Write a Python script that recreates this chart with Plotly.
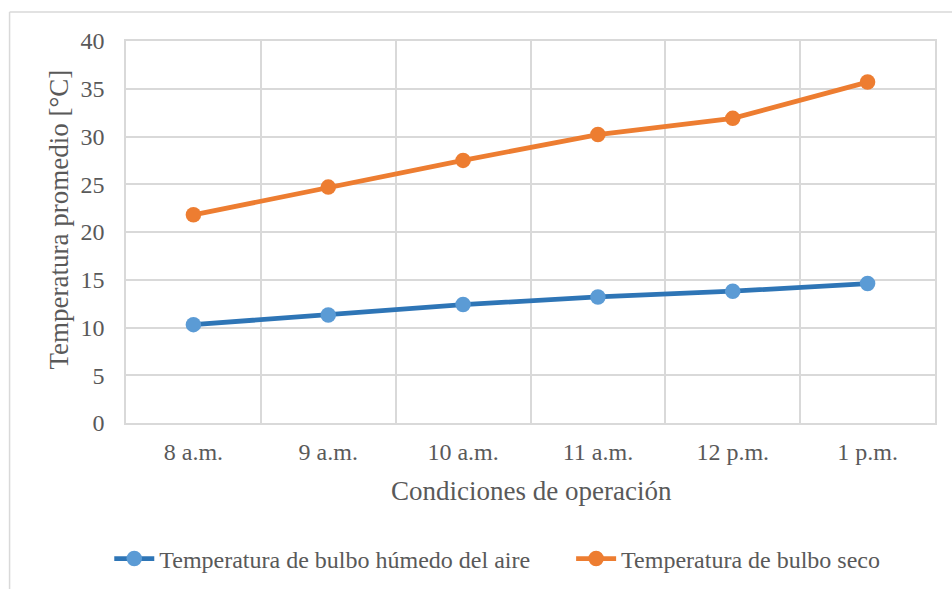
import plotly.graph_objects as go

categories = ["8 a.m.", "9 a.m.", "10 a.m.", "11 a.m.", "12 p.m.", "1 p.m."]
bulbo_humedo = [10.3, 11.3, 12.4, 13.2, 13.8, 14.6]
bulbo_seco = [21.8, 24.7, 27.5, 30.2, 31.9, 35.7]
y_ticks = [0, 5, 10, 15, 20, 25, 30, 35, 40]
serie_nombres = ["Temperatura de bulbo húmedo del aire", "Temperatura de bulbo seco"]

W, H = 952, 589
L, R, T, B = 125.5, 935, 41, 423  # plot area in px

def px_x(px):
    return (px - L) / (R - L)

def px_y(py):
    return (B - py) / (B - T)

FONT = "Liberation Serif, Times New Roman, serif"
TXT = "#595959"
GRID = "#d9d9d9"

fig = go.Figure()
fig.add_trace(go.Scatter(
    x=categories, y=bulbo_humedo, mode="lines+markers",
    name=serie_nombres[0] + "\u00a0" * 6,
    line=dict(color="#2e75b6", width=4.8),
    marker=dict(color="#5b9bd5", size=15.5, line=dict(width=0)),
))
fig.add_trace(go.Scatter(
    x=categories, y=bulbo_seco, mode="lines+markers",
    name=serie_nombres[1],
    line=dict(color="#ed7d31", width=4.8),
    marker=dict(color="#ed7d31", size=15.5, line=dict(width=0)),
))

fig.update_layout(
    width=W, height=H,
    margin=dict(l=L, r=W - R, t=T, b=H - B, autoexpand=False),
    paper_bgcolor="white", plot_bgcolor="white",
    font=dict(family=FONT, color=TXT, size=24),
    showlegend=True,
    legend=dict(
        orientation="h", x=px_x(497), xanchor="center",
        y=px_y(559), yanchor="middle",
        font=dict(family=FONT, size=24, color=TXT),
        bgcolor="rgba(0,0,0,0)", itemwidth=40, tracegroupgap=0,
    ),
    xaxis=dict(
        type="category", range=[-0.5, 5.5], tickson="boundaries",
        showgrid=True, gridcolor=GRID, gridwidth=1.5,
        showline=True, linecolor=GRID, linewidth=1.5, mirror=True,
        ticks="", ticklabelstandoff=6,
        tickfont=dict(family=FONT, size=24, color=TXT),
        zeroline=False, fixedrange=True,
    ),
    yaxis=dict(
        range=[0, 40], tickvals=y_ticks,
        showgrid=True, gridcolor=GRID, gridwidth=1.5,
        showline=True, linecolor=GRID, linewidth=1.5, mirror=True,
        ticks="", ticklabelstandoff=15,
        tickfont=dict(family=FONT, size=24, color=TXT),
        zeroline=False, fixedrange=True,
    ),
    annotations=[
        dict(text="Condiciones de operación", xref="paper", yref="paper",
             x=px_x(531), y=px_y(491), xanchor="center", yanchor="middle",
             showarrow=False, font=dict(family=FONT, size=27, color=TXT)),
        dict(text="Temperatura promedio [°C]", xref="paper", yref="paper",
             x=px_x(58), y=px_y(220), xanchor="center", yanchor="middle",
             textangle=-90, showarrow=False,
             font=dict(family=FONT, size=27, color=TXT)),
    ],
    shapes=[
        dict(type="line", xref="paper", yref="paper",
             x0=px_x(9), x1=px_x(9), y0=px_y(12), y1=px_y(600),
             line=dict(color=GRID, width=1.5)),
        dict(type="line", xref="paper", yref="paper",
             x0=px_x(9), x1=px_x(960), y0=px_y(12), y1=px_y(12),
             line=dict(color=GRID, width=1.5)),
    ],
)

fig.write_html("out.html")
